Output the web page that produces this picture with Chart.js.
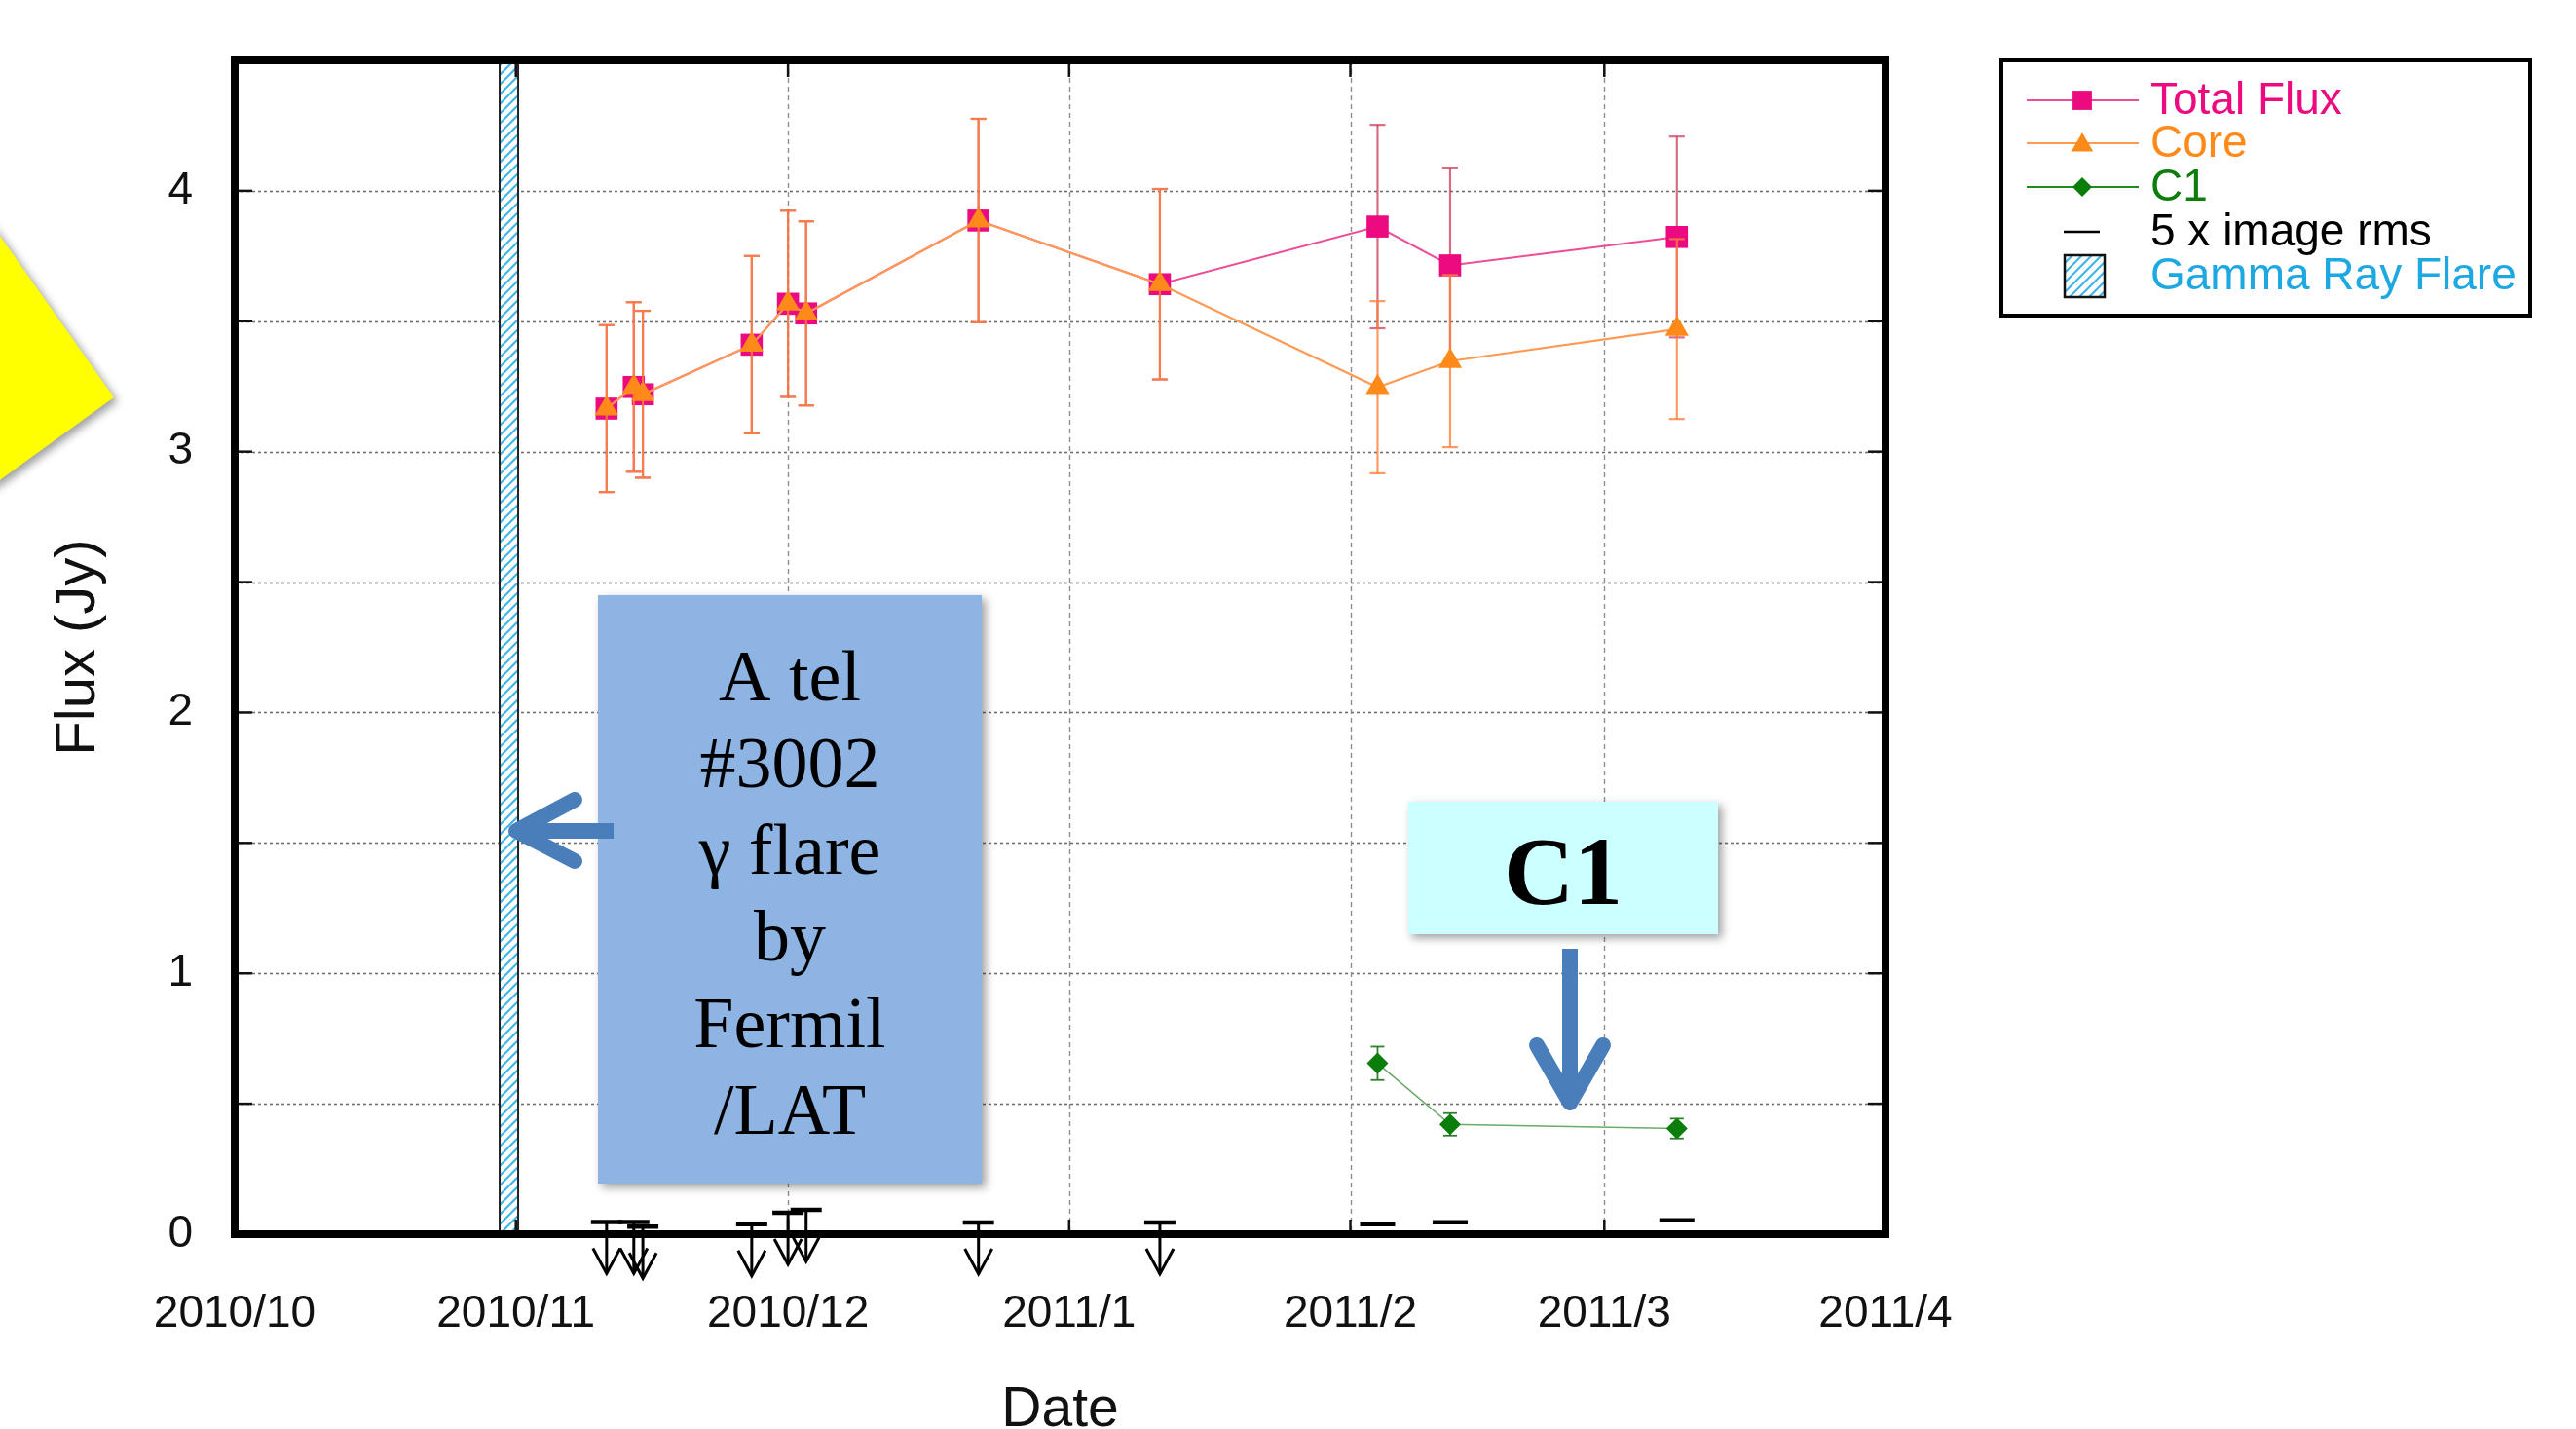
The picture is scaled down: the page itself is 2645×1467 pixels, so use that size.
<!DOCTYPE html>
<html>
<head>
<meta charset="utf-8">
<title>Flux (Jy) vs Date</title>
<style>
  html, body { margin: 0; padding: 0; background: #ffffff; }
  #wrap { width: 2645px; height: 1467px; position: relative; }
</style>
<script src="https://cdn.jsdelivr.net/npm/chart.js@4.4.1/dist/chart.umd.min.js"></script>
</head>
<body>
<div id="wrap"><canvas id="c" width="2645" height="1467"></canvas></div>
<script>
// ---- observations ----
const obsDates  = ['2010-11-11', '2010-11-14', '2010-11-15', '2010-11-27', '2010-12-01', '2010-12-03',
                   '2010-12-22', '2011-01-11', '2011-02-04', '2011-02-12', '2011-03-09'];
const totalFlux = [3.165, 3.248, 3.220, 3.410, 3.567, 3.530, 3.886, 3.642, 3.863, 3.714, 3.823];
const totalErr  = [0.320, 0.325, 0.320, 0.340, 0.357, 0.353, 0.390, 0.365, 0.390, 0.375, 0.385];
const coreFlux  = [3.165, 3.248, 3.220, 3.410, 3.567, 3.530, 3.886, 3.642, 3.247, 3.347, 3.470];
const coreErr   = [0.320, 0.325, 0.320, 0.340, 0.357, 0.353, 0.390, 0.365, 0.330, 0.330, 0.345];
const c1Flux    = [null, null, null, null, null, null, null, null, 0.655, 0.421, 0.405];
const c1Err     = [null, null, null, null, null, null, null, null, 0.064, 0.043, 0.038];
// five times the image rms (upper limit where C1 is not detected)
const rms5      = [0.047, 0.047, 0.029, 0.038, 0.082, 0.093, 0.045, 0.045, 0.038, 0.046, 0.053];

// ---- axes ----
const monthTicks = ['2010/10', '2010/11', '2010/12', '2011/1', '2011/2', '2011/3', '2011/4'];
const yMin = 0, yMax = 4.5, yStep = 0.5;

// gamma-ray flare interval
const flareStart = '2010-10-30T05:00:00Z';
const flareEnd   = '2010-11-01T06:00:00Z';

const legendLabels = ['Total Flux', 'Core', 'C1', '5 x image rms', 'Gamma Ray Flare'];
const noteLines = ['A tel', '#3002', '\u03b3 flare', 'by', 'Fermil', '/LAT'];
const c1Note = 'C1';

// ---- helpers ----
const SANS = "'Liberation Sans', Arial, Helvetica, sans-serif";
const SERIF = "'Liberation Serif', 'Times New Roman', serif";
const origin = (() => { const [y, m] = monthTicks[0].split('/').map(Number); return Date.UTC(y, m - 1, 1); })();
const monthDay = s => { const [y, m] = s.split('/').map(Number); return (Date.UTC(y, m - 1, 1) - origin) / 864e5; };
const dayOf = s => (Date.parse(s) - origin) / 864e5;
const monthDays = monthTicks.map(monthDay);

const COLORS = {
  total: '#ec0a80', totalLine: '#ee4c98', totalErr: 'rgba(200,60,90,0.75)',
  core: '#ff8a1a', coreLine: '#ff9a55', coreErr: 'rgba(255,128,60,0.8)',
  c1: '#0b7d0b', c1Line: '#6aaa6a', c1Err: '#2f7f2f',
  flare: '#1ea8e2'
};

const points = (vals) => obsDates.map((d, i) => ({ x: dayOf(d), y: vals[i] })).filter(p => p.y != null);

function hatchPattern(ctx) {
  const t = document.createElement('canvas');
  t.width = 10; t.height = 10;
  const g = t.getContext('2d');
  g.fillStyle = '#ffffff'; g.fillRect(0, 0, 10, 10);
  g.strokeStyle = 'rgba(30,168,226,0.85)'; g.lineWidth = 2.2;
  g.beginPath();
  g.moveTo(-2, 12); g.lineTo(12, -2);
  g.moveTo(-7, 7); g.lineTo(7, -7);
  g.moveTo(3, 17); g.lineTo(17, 3);
  g.stroke();
  return ctx.createPattern(t, 'repeat');
}

function seg(ctx, x1, y1, x2, y2) { ctx.beginPath(); ctx.moveTo(x1, y1); ctx.lineTo(x2, y2); ctx.stroke(); }

// grid, flare band, frame and inner tick marks
const framePlugin = {
  id: 'frame',
  beforeDatasetsDraw(chart) {
    const { ctx, chartArea: a, scales: { x, y } } = chart;
    ctx.save();
    ctx.lineCap = 'butt';
    ctx.setLineDash([3, 3]); ctx.strokeStyle = '#6e6e6e'; ctx.lineWidth = 1.6;
    y.ticks.forEach(t => {
      if (t.value <= yMin || t.value >= yMax) return;
      const py = Math.round(y.getPixelForValue(t.value)) + 0.5;
      seg(ctx, a.left, py, a.right, py);
    });
    ctx.setLineDash([5, 4]); ctx.strokeStyle = '#8e8e8e'; ctx.lineWidth = 1.4;
    x.ticks.forEach(t => {
      if (t.value <= x.min || t.value >= x.max) return;
      const px = Math.round(x.getPixelForValue(t.value)) + 0.5;
      seg(ctx, px, a.top, px, a.bottom);
    });
    ctx.setLineDash([]);

    // flare band
    const x0 = x.getPixelForValue(dayOf(flareStart)), x1 = x.getPixelForValue(dayOf(flareEnd));
    ctx.fillStyle = hatchPattern(ctx);
    ctx.fillRect(x0, a.top, x1 - x0, a.bottom - a.top);
    ctx.strokeStyle = '#222'; ctx.lineWidth = 2;
    seg(ctx, x0, a.top, x0, a.bottom);
    seg(ctx, x1, a.top, x1, a.bottom);

    // inner tick marks
    ctx.strokeStyle = '#111'; ctx.lineWidth = 2.5;
    y.ticks.forEach(t => {
      const py = y.getPixelForValue(t.value);
      seg(ctx, a.left, py, a.left + 18, py);
      seg(ctx, a.right - 18, py, a.right, py);
    });
    x.ticks.forEach(t => {
      const px = x.getPixelForValue(t.value);
      seg(ctx, px, a.bottom, px, a.bottom - 15);
      seg(ctx, px, a.top, px, a.top + 17);
    });

    // frame
    ctx.lineWidth = 8; ctx.strokeStyle = '#000';
    ctx.strokeRect(a.left, a.top, a.right - a.left, a.bottom - a.top);
    ctx.restore();
  }
};

// vertical error bars under each dataset's own markers
const errorBarPlugin = {
  id: 'errorBars',
  beforeDatasetDraw(chart, args) {
    const ds = chart.data.datasets[args.index];
    if (!ds.errors) return;
    const { ctx, scales: { y } } = chart;
    ctx.save();
    ctx.strokeStyle = ds.errorColor; ctx.lineWidth = ds.errorWidth;
    args.meta.data.forEach((pt, i) => {
      const v = ds.data[i].y, e = ds.errors[i];
      if (v == null || e == null) return;
      const yt = y.getPixelForValue(v + e), yb = y.getPixelForValue(v - e);
      const h = ds.capHalf;
      seg(ctx, pt.x, yt, pt.x, yb);
      seg(ctx, pt.x - h, yt, pt.x + h, yt);
      seg(ctx, pt.x - h, yb, pt.x + h, yb);
    });
    ctx.restore();
  }
};

// 5 x rms: arrows (upper limits) where C1 is not detected, short dashes otherwise
const limitPlugin = {
  id: 'limits',
  afterDatasetsDraw(chart) {
    const { ctx, scales: { x, y } } = chart;
    ctx.save();
    ctx.strokeStyle = '#000';
    obsDates.forEach((d, i) => {
      const px = x.getPixelForValue(dayOf(d));
      const py = y.getPixelForValue(rms5[i]);
      if (c1Flux[i] == null) {
        ctx.lineWidth = 4.5;
        seg(ctx, px - 16, py, px + 16, py);
        ctx.lineWidth = 3;
        const tip = py + 53;
        seg(ctx, px, py, px, tip);
        ctx.beginPath();
        ctx.moveTo(px - 14, tip - 26); ctx.lineTo(px, tip); ctx.lineTo(px + 14, tip - 26);
        ctx.stroke();
      } else {
        ctx.lineWidth = 4.5;
        seg(ctx, px - 18, py, px + 18, py);
      }
    });
    ctx.restore();
  }
};

function marker(ctx, style, x, y, r, color) {
  ctx.fillStyle = color;
  ctx.beginPath();
  if (style === 'rect') {
    const s = r * Math.SQRT1_2; ctx.rect(x - s, y - s, 2 * s, 2 * s);
  } else if (style === 'triangle') {
    ctx.moveTo(x, y - r);
    ctx.lineTo(x + r * Math.sin(2 * Math.PI / 3), y - r * Math.cos(2 * Math.PI / 3));
    ctx.lineTo(x + r * Math.sin(4 * Math.PI / 3), y - r * Math.cos(4 * Math.PI / 3));
    ctx.closePath();
  } else {
    ctx.moveTo(x - r, y); ctx.lineTo(x, y - r); ctx.lineTo(x + r, y); ctx.lineTo(x, y + r); ctx.closePath();
  }
  ctx.fill();
}

const legendPlugin = {
  id: 'boxLegend',
  afterDraw(chart) {
    const { ctx } = chart;
    const L = 2055, T = 62, R = 2598, B = 324;
    ctx.save();
    ctx.fillStyle = '#fff'; ctx.fillRect(L, T, R - L, B - T);
    ctx.strokeStyle = '#000'; ctx.lineWidth = 4; ctx.strokeRect(L, T, R - L, B - T);
    const rows = [103, 147, 192, 238, 283];
    const textX = 2208, lx0 = 2081, lx1 = 2196, mx = 2138;
    const ds = chart.data.datasets;
    const lineCols = [COLORS.totalLine, COLORS.coreLine, '#1f8a1f'];
    const textCols = [COLORS.total, COLORS.core, '#0b7d0b', '#000', COLORS.flare];
    const legendR = [14, 13, 10];
    for (let i = 0; i < 3; i++) {
      ctx.strokeStyle = lineCols[i]; ctx.lineWidth = 2.2;
      seg(ctx, lx0, rows[i], lx1, rows[i]);
      marker(ctx, ds[i].pointStyle, mx, rows[i] + (i === 1 ? 2 : 0), legendR[i], ds[i].backgroundColor);
    }
    ctx.strokeStyle = '#000'; ctx.lineWidth = 2.5;
    seg(ctx, 2119, rows[3], 2156, rows[3]);
    ctx.fillStyle = hatchPattern(ctx);
    ctx.fillRect(2120, 262, 41, 43);
    ctx.lineWidth = 2.5; ctx.strokeStyle = '#111';
    ctx.strokeRect(2120, 262, 41, 43);
    ctx.font = '46px ' + SANS; ctx.textBaseline = 'middle'; ctx.textAlign = 'left';
    legendLabels.forEach((t, i) => { ctx.fillStyle = textCols[i]; ctx.fillText(t, textX, rows[i] + 1); });
    ctx.restore();
  }
};

function shadowed(ctx, fn) {
  ctx.save();
  ctx.shadowColor = 'rgba(0,0,0,0.38)'; ctx.shadowBlur = 9; ctx.shadowOffsetX = 4; ctx.shadowOffsetY = 4;
  fn();
  ctx.restore();
}

const notesPlugin = {
  id: 'notes',
  afterDraw(chart) {
    const { ctx } = chart;
    // yellow pointer at the left edge
    shadowed(ctx, () => {
      ctx.fillStyle = '#ffff00';
      ctx.beginPath(); ctx.moveTo(-10, 228); ctx.lineTo(117, 408); ctx.lineTo(-10, 500); ctx.closePath(); ctx.fill();
    });
    // ATel note box
    shadowed(ctx, () => { ctx.fillStyle = '#8eb4e3'; ctx.fillRect(614, 611, 394, 604); });
    ctx.save();
    ctx.fillStyle = '#000'; ctx.font = '74px ' + SERIF; ctx.textAlign = 'center'; ctx.textBaseline = 'alphabetic';
    noteLines.forEach((t, i) => ctx.fillText(t, 811, 719 + i * 89));
    ctx.restore();
    // C1 note box
    shadowed(ctx, () => { ctx.fillStyle = '#ccffff'; ctx.fillRect(1446, 823, 318, 136); });
    ctx.save();
    ctx.fillStyle = '#000'; ctx.font = 'bold 100px ' + SERIF; ctx.textAlign = 'center'; ctx.textBaseline = 'alphabetic';
    ctx.fillText(c1Note, 1605, 928);
    ctx.restore();
    // arrows
    ctx.save();
    ctx.strokeStyle = '#4a7ebb'; ctx.lineWidth = 16;
    ctx.lineCap = 'butt';
    seg(ctx, 630, 853, 536, 853);
    seg(ctx, 1612, 974, 1612, 1122);
    ctx.lineCap = 'round'; ctx.lineJoin = 'round';
    ctx.beginPath(); ctx.moveTo(590, 821); ctx.lineTo(530, 853); ctx.lineTo(590, 884); ctx.stroke();
    ctx.beginPath(); ctx.moveTo(1578, 1073); ctx.lineTo(1612, 1132); ctx.lineTo(1646, 1073); ctx.stroke();
    ctx.restore();
  }
};

// invisible tick marks keep the y labels away from the frame without adding top padding
const hiddenTicks = {
  display: true, drawOnChartArea: false, drawTicks: true,
  color: 'rgba(0,0,0,0)', tickColor: 'rgba(0,0,0,0)', lineWidth: 0, tickWidth: 0
};

const ctx = document.getElementById('c').getContext('2d');
new Chart(ctx, {
  type: 'line',
  data: {
    datasets: [
      {
        label: legendLabels[0], data: points(totalFlux), errors: totalErr,
        errorColor: COLORS.totalErr, errorWidth: 2.2, capHalf: 8,
        borderColor: COLORS.totalLine, borderWidth: 2, backgroundColor: COLORS.total,
        pointStyle: 'rect', pointRadius: 16, pointBorderWidth: 0, pointBackgroundColor: COLORS.total,
        tension: 0, order: 2
      },
      {
        label: legendLabels[1], data: points(coreFlux), errors: coreErr,
        errorColor: COLORS.coreErr, errorWidth: 2.2, capHalf: 8,
        borderColor: COLORS.coreLine, borderWidth: 2.2, backgroundColor: COLORS.core,
        pointStyle: 'triangle', pointRadius: 14, pointBorderWidth: 0, pointBackgroundColor: COLORS.core,
        tension: 0, order: 1
      },
      {
        label: legendLabels[2], data: points(c1Flux), errors: c1Err.filter(v => v != null),
        errorColor: COLORS.c1Err, errorWidth: 1.8, capHalf: 7,
        borderColor: COLORS.c1Line, borderWidth: 1.6, backgroundColor: COLORS.c1,
        pointStyle: 'rectRot', pointRadius: 11, pointBorderWidth: 0, pointBackgroundColor: COLORS.c1,
        tension: 0, order: 0
      }
    ]
  },
  options: {
    responsive: false, animation: false, events: [],
    layout: { padding: { left: 0, top: 62, right: 709, bottom: 0 } },
    plugins: { legend: { display: false }, tooltip: { enabled: false } },
    scales: {
      x: {
        type: 'linear', min: monthDays[0], max: monthDays[monthDays.length - 1],
        afterBuildTicks: s => { s.ticks = monthDays.map(v => ({ value: v })); },
        afterFit: s => { s.height = 200; },
        grid: { display: false, drawTicks: false }, border: { display: false },
        ticks: {
          autoSkip: false, maxRotation: 0, minRotation: 0, padding: 55, color: '#111',
          font: { family: SANS, size: 46 },
          callback: (v, i) => monthTicks[i]
        },
        title: { display: true, text: 'Date', color: '#111', font: { family: SANS, size: 57, lineHeight: 0.66 }, padding: 0 }
      },
      y: {
        min: yMin, max: yMax,
        afterFit: s => { s.width = 241; },
        grid: Object.assign({ tickLength: 43 }, hiddenTicks), border: { display: false },
        ticks: {
          stepSize: yStep, autoSkip: false, padding: 0, color: '#111',
          font: { family: SANS, size: 46 },
          callback: v => Number.isInteger(v) ? String(v) : ''
        },
        title: { display: true, text: 'Flux (Jy)', color: '#111', font: { family: SANS, size: 58, lineHeight: 1.2 }, padding: { top: 46, bottom: 0 } }
      }
    }
  },
  plugins: [framePlugin, errorBarPlugin, limitPlugin, notesPlugin, legendPlugin]
});
</script>
</body>
</html>
